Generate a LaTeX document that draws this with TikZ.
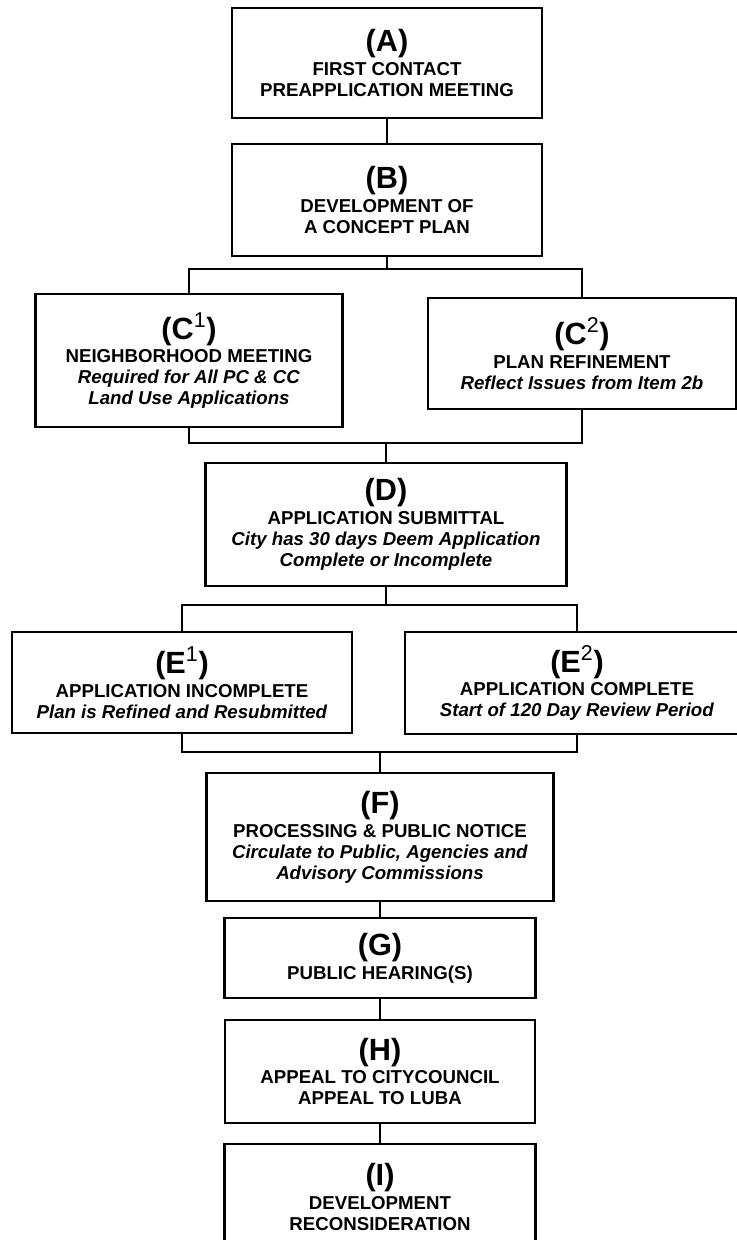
\documentclass[tikz,border=0pt]{standalone}
\usepackage{fontspec}
\setmainfont{Liberation Sans}
\usepackage{tikz}

\begin{document}
\begin{tikzpicture}[x=0.75pt, y=-0.75pt,
    stage/.style={draw, line width=1.8pt, inner sep=0pt, align=center,
        font=\bfseries\fontsize{14}{15.75}\selectfont},
    link/.style={line width=1.3pt}]
    \clip (0,0) rectangle (737,1240);
    % steps
    \node[stage, minimum width=232.5pt, minimum height=82.5pt] (A) at (387,63)
        {{\fontsize{23}{23}\selectfont (A)}\\[2pt] FIRST CONTACT\\ PREAPPLICATION MEETING};
    \node[stage, minimum width=232.5pt, minimum height=84pt] (B) at (387,200)
        {{\fontsize{23}{23}\selectfont (B)}\\[2pt] DEVELOPMENT OF\\ A CONCEPT PLAN};
    \node[stage, minimum width=230.25pt, minimum height=99.75pt] (C1) at (189,360.5)
        {{\fontsize{23}{23}\selectfont (C\textsuperscript{\mdseries 1})}\\[2pt] NEIGHBORHOOD MEETING\\ \textit{Required for All PC \& CC}\\ \textit{Land Use Applications}};
    \node[stage, minimum width=231pt, minimum height=83.25pt] (C2) at (582,353.5)
        {{\fontsize{23}{23}\selectfont (C\textsuperscript{\mdseries 2})}\\[2pt] PLAN REFINEMENT\\ \textit{Reflect Issues from Item 2b}};
    \node[stage, minimum width=270.75pt, minimum height=92.25pt] (D) at (386,524.5)
        {{\fontsize{23}{23}\selectfont (D)}\\[2pt] APPLICATION SUBMITTAL\\ \textit{City has 30 days Deem Application}\\ \textit{Complete or Incomplete}};
    \node[stage, minimum width=255pt, minimum height=75.75pt] (E1) at (182,682.5)
        {{\fontsize{23}{23}\selectfont (E\textsuperscript{\mdseries 1})}\\[2pt] APPLICATION INCOMPLETE\\ \textit{Plan is Refined and Resubmitted}};
    \node[stage, minimum width=258pt, minimum height=76.5pt] (E2) at (577,683)
        {{\fontsize{23}{23}\selectfont (E\textsuperscript{\mdseries 2})}\\[2pt] APPLICATION COMPLETE\\ \textit{Start of 120 Day Review Period}};
    \node[stage, minimum width=260.25pt, minimum height=96pt] (F) at (380,837)
        {{\fontsize{23}{23}\selectfont (F)}\\[2pt] PROCESSING \& PUBLIC NOTICE\\ \textit{Circulate to Public, Agencies and}\\ \textit{Advisory Commissions}};
    \node[stage, minimum width=233.25pt, minimum height=60pt] (G) at (380,958)
        {{\fontsize{23}{23}\selectfont (G)}\\[2pt] PUBLIC HEARING(S)};
    \node[stage, minimum width=232.5pt, minimum height=77.25pt] (H) at (380,1071.5)
        {{\fontsize{23}{23}\selectfont (H)}\\[2pt] APPEAL TO CITYCOUNCIL\\ APPEAL TO LUBA};
    \node[stage, minimum width=233.25pt, minimum height=79.5pt] (I) at (380,1197)
        {{\fontsize{23}{23}\selectfont (I)}\\[2pt] DEVELOPMENT\\ RECONSIDERATION};
    % branch points
    \coordinate (splitC) at (387,269);
    \coordinate (joinC) at (386,443);
    \coordinate (splitE) at (386,605);
    \coordinate (joinE) at (380,752);
    % connectors
    \draw[link] (A.south) -- (B.north);
    \draw[link] (B.south) -- (splitC);
    \draw[link] (C1.north) |- (splitC) -| (C2.north);
    \draw[link] (C1.south) |- (joinC) -| (C2.south);
    \draw[link] (joinC) -- (D.north);
    \draw[link] (D.south) -- (splitE);
    \draw[link] (E1.north) |- (splitE) -| (E2.north);
    \draw[link] (E1.south) |- (joinE) -| (E2.south);
    \draw[link] (joinE) -- (F.north);
    \draw[link] (F.south) -- (G.north);
    \draw[link] (G.south) -- (H.north);
    \draw[link] (H.south) -- (I.north);
\end{tikzpicture}
\end{document}
